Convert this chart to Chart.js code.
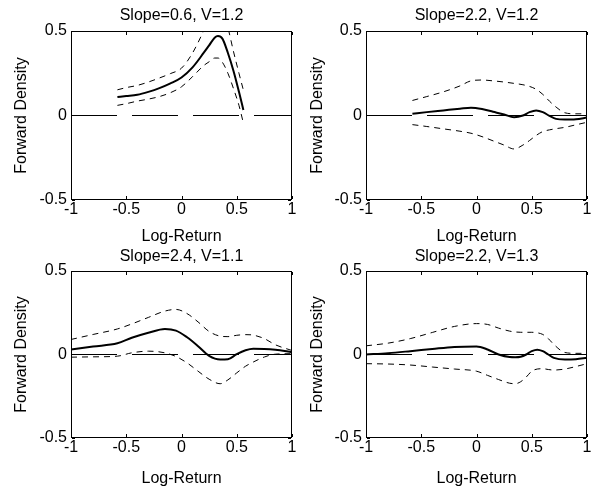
<!DOCTYPE html>
<html><head><meta charset="utf-8">
<script src="https://cdn.jsdelivr.net/npm/chart.js@4.4.1/dist/chart.umd.min.js"></script>
<style>
html,body{margin:0;padding:0;background:#fff;}
#wrap{position:relative;width:594px;height:487px;overflow:hidden;background:#fff;}
canvas{position:absolute;}
</style></head><body>
<div id="wrap">
<canvas id="c1" width="297" height="245" style="left:0;top:0"></canvas>
<canvas id="c2" width="297" height="245" style="left:297px;top:0"></canvas>
<canvas id="c3" width="297" height="242" style="left:0;top:245px"></canvas>
<canvas id="c4" width="297" height="242" style="left:297px;top:245px"></canvas>
</div>
<script>
// ---- tick labels ----
const xTicks = [-1, -0.5, 0, 0.5, 1];
const yTicks = [-0.5, 0, 0.5];
const xTickLabels = ["-1", "-0.5", "0", "0.5", "1"];
const yTickLabels = ["-0.5", "0", "0.5"];
const xTitle = "Log-Return";
const yTitle = "Forward Density";
const titles = ["Slope=0.6, V=1.2", "Slope=2.2, V=1.2", "Slope=2.4, V=1.1", "Slope=2.2, V=1.3"];

// zero reference line
const refX = [-1, 1];
const refY = [0, 0];

// ---- panel 1 ----
const p1x   = [-0.58,-0.5,-0.4,-0.3,-0.2,-0.1,0,0.1,0.2,0.25,0.3,0.33,0.37,0.42,0.47,0.52,0.56];
const p1mid = [0.109,0.115,0.123,0.14,0.162,0.19,0.225,0.285,0.37,0.415,0.46,0.47,0.455,0.37,0.265,0.14,0.033];
const p1lo  = [0.06,0.07,0.085,0.097,0.112,0.135,0.17,0.23,0.295,0.318,0.34,0.34,0.315,0.25,0.16,0.06,-0.045];
const p1hi  = [0.152,0.165,0.178,0.198,0.222,0.248,0.28,0.37,0.5,0.57,0.62,0.64,0.62,0.52,0.38,0.25,0.15];

// ---- panel 2 ----
const p2x   = [-0.58,-0.45,-0.3,-0.15,-0.05,0.05,0.15,0.25,0.34,0.42,0.48,0.54,0.6,0.66,0.72,0.8,0.9,1];
const p2mid = [0.01,0.02,0.03,0.04,0.046,0.038,0.022,0.006,-0.01,0.0,0.02,0.03,0.02,-0.002,-0.02,-0.024,-0.022,-0.012];
const p2lo  = [-0.054,-0.065,-0.079,-0.093,-0.105,-0.125,-0.15,-0.175,-0.198,-0.175,-0.148,-0.118,-0.095,-0.085,-0.078,-0.07,-0.055,-0.04];
const p2hi  = [0.089,0.112,0.14,0.175,0.205,0.21,0.205,0.198,0.19,0.182,0.172,0.155,0.125,0.085,0.05,0.016,0.01,0.01];

// ---- panel 3 ----
const p3x   = [-1,-0.8,-0.58,-0.45,-0.3,-0.15,-0.05,0.05,0.15,0.25,0.35,0.42,0.5,0.58,0.65,0.75,0.85,1];
const p3mid = [0.03,0.048,0.067,0.1,0.13,0.153,0.143,0.103,0.05,-0.008,-0.03,-0.028,0.002,0.025,0.034,0.033,0.028,0.014];
const p3lo  = [-0.016,-0.014,-0.01,0.01,0.02,0.01,-0.012,-0.05,-0.1,-0.148,-0.175,-0.152,-0.11,-0.07,-0.045,-0.015,0.002,0.005];
const p3hi  = [0.09,0.12,0.153,0.183,0.222,0.26,0.27,0.245,0.195,0.138,0.11,0.107,0.115,0.119,0.116,0.095,0.058,0.024];

// ---- panel 4 ----
const p4x   = [-1,-0.8,-0.6,-0.4,-0.2,0,0.1,0.2,0.3,0.35,0.4,0.45,0.5,0.55,0.6,0.65,0.7,0.8,0.9,1];
const p4mid = [0.0,0.008,0.02,0.033,0.045,0.048,0.03,0.0,-0.015,-0.016,-0.013,0.0,0.02,0.029,0.02,0.0,-0.02,-0.03,-0.028,-0.02];
const p4lo  = [-0.055,-0.057,-0.063,-0.075,-0.087,-0.1,-0.125,-0.15,-0.172,-0.175,-0.163,-0.135,-0.1,-0.087,-0.085,-0.09,-0.093,-0.087,-0.072,-0.055];
const p4hi  = [0.052,0.068,0.095,0.132,0.168,0.185,0.18,0.158,0.14,0.135,0.133,0.133,0.133,0.13,0.12,0.095,0.06,0.012,0.007,0.007];

const FONT = "'Liberation Sans', Arial, Helvetica, sans-serif";

function pts(xs, ys) { return xs.map((x, i) => ({x: x, y: ys[i]})); }

const framePlugin = {
  id: 'frame',
  afterDraw(chart, args, opts) {
    const ctx = chart.ctx, a = chart.chartArea;
    const xs = chart.scales.x, ys = chart.scales.y;
    ctx.save();
    ctx.setLineDash([]);
    ctx.globalAlpha = 1;
    ctx.fillStyle = '#000000';
    const L = Math.round(a.left), R = Math.round(a.right) - 1;
    const T = Math.round(a.top), B = Math.round(a.bottom) - 1;
    ctx.fillRect(L, T, R - L + 1, 1);
    ctx.fillRect(L, B, R - L + 1, 1);
    ctx.fillRect(L, T, 1, B - T + 1);
    ctx.fillRect(R, T, 1, B - T + 1);
    const tl = 3;
    xTicks.forEach(v => {
      const px = Math.round(xs.getPixelForValue(v));
      ctx.fillRect(px, B - tl, 1, tl);
      ctx.fillRect(px, T + 1, 1, tl);
    });
    yTicks.forEach(v => {
      const py = Math.round(ys.getPixelForValue(v) - 0.5);
      ctx.fillRect(L + 1, py, tl, 1);
      ctx.fillRect(R - tl, py, tl, 1);
    });
    // panel title
    ctx.font = '16px ' + FONT;
    ctx.textAlign = 'center';
    ctx.textBaseline = 'middle';
    ctx.fillText(opts.text, (a.left + a.right) / 2, a.top - opts.gap);
    ctx.restore();
  }
};

function makeChart(id, title, xs, lo, mid, hi, g) {
  new Chart(document.getElementById(id), {
    type: 'line',
    data: {
      datasets: [
        {data: pts(xs, mid), borderColor: '#000', borderWidth: 2, pointRadius: 0, cubicInterpolationMode: 'monotone'},
        {data: pts(xs, hi), borderColor: '#000', borderWidth: 1, borderDash: [6, 5], pointRadius: 0, cubicInterpolationMode: 'monotone'},
        {data: pts(xs, lo), borderColor: '#000', borderWidth: 1, borderDash: [6, 5], pointRadius: 0, cubicInterpolationMode: 'monotone'},
        {data: pts(refX, refY), borderColor: '#000', borderWidth: 1, borderDash: [46, 15], pointRadius: 0}
      ]
    },
    options: {
      responsive: false,
      animation: false,
      devicePixelRatio: 1,
      layout: {padding: {left: g.padLeft, right: g.padRight, top: g.top, bottom: 0}},
      plugins: {legend: {display: false}, tooltip: {enabled: false}, title: {display: false},
                frame: {text: title, gap: g.titleGap}},
      scales: {
        x: {
          type: 'linear', min: -1, max: 1,
          afterBuildTicks: s => { s.ticks = xTicks.map(v => ({value: v})); },
          afterFit: s => { s.height = g.xHeight; },
          grid: {display: false, drawTicks: false},
          border: {display: false},
          ticks: {color: '#000', padding: 0, maxRotation: 0, autoSkip: false,
                  callback: (v, i) => xTickLabels[xTicks.indexOf(v)],
                  font: {family: FONT, size: 16}},
          title: {display: true, text: xTitle, color: '#000', padding: 0, font: {family: FONT, size: 16, lineHeight: 1}}
        },
        y: {
          type: 'linear', min: -0.5, max: 0.5,
          afterBuildTicks: s => { s.ticks = yTicks.map(v => ({value: v})); },
          afterFit: s => { s.width = g.yWidth; },
          grid: {display: false, drawTicks: false},
          border: {display: false},
          ticks: {color: '#000', padding: 4, autoSkip: false,
                  callback: (v, i) => yTickLabels[yTicks.indexOf(v)],
                  font: {family: FONT, size: 16}},
          title: {display: true, text: yTitle, color: '#000', padding: {top: 4, bottom: 4}, font: {family: FONT, size: 16}}
        }
      }
    },
    plugins: [framePlugin]
  });
}

makeChart('c1', titles[0], p1x, p1lo, p1mid, p1hi, {padLeft: 8, yWidth: 63, padRight: 5, top: 31, xHeight: 45, titleGap: 15});
makeChart('c2', titles[1], p2x, p2lo, p2mid, p2hi, {padLeft: 7, yWidth: 62, padRight: 7, top: 31, xHeight: 45, titleGap: 15});
makeChart('c3', titles[2], p3x, p3lo, p3mid, p3hi, {padLeft: 8, yWidth: 63, padRight: 5, top: 26, xHeight: 49, titleGap: 14});
makeChart('c4', titles[3], p4x, p4lo, p4mid, p4hi, {padLeft: 7, yWidth: 62, padRight: 7, top: 26, xHeight: 49, titleGap: 14});
</script>
</body></html>
